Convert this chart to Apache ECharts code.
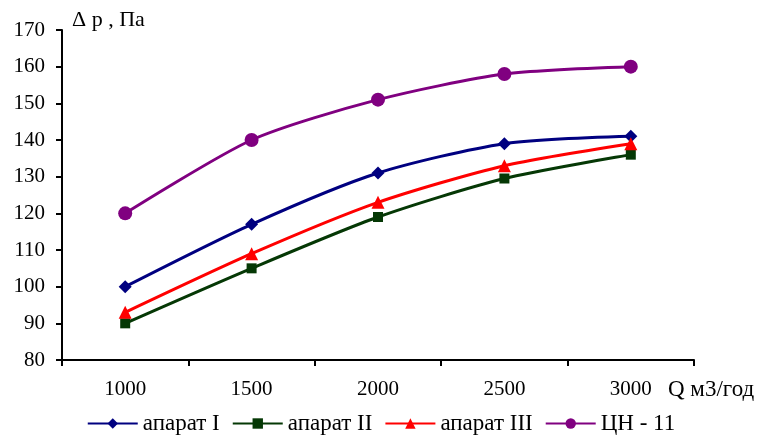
<!DOCTYPE html>
<html>
<head>
<meta charset="utf-8">
<script src="https://cdn.jsdelivr.net/npm/echarts@6/dist/echarts.min.js"></script>
<style>
  html, body { margin: 0; padding: 0; background: #fff; }
  #chart { width: 762px; height: 440px; }
</style>
</head>
<body>
<div id="chart"></div>
<script>
// Flow rate, m3/h
const categories = ['1000', '1500', '2000', '2500', '3000'];
// Pressure drop, Pa
const aparat1 = [100, 117, 131, 139, 141];
const aparat2 = [90, 105, 119, 129.5, 136];
const aparat3 = [93, 109, 123, 133, 139];
const cn11 = [120, 140, 151, 158, 160];

const seriesNames = ['апарат I', 'апарат II', 'апарат III', 'ЦН - 11'];
const seriesColors = ['#000080', '#053805', '#ff0000', '#800080'];
const seriesSymbols = ['diamond', 'rect', 'triangle', 'circle'];
const seriesSizes = [13, 10, 13, 14];
const seriesData = [aparat1, aparat2, aparat3, cn11];

const font = 'Liberation Serif, Times New Roman, serif';

const chart = echarts.init(document.getElementById('chart'));
chart.setOption({
  animation: false,
  backgroundColor: '#fff',
  grid: { left: 62, right: 68, top: 30, bottom: 80 },
  legend: {
    bottom: 0,
    left: 'center',
    itemWidth: 50,
    itemHeight: 13,
    itemGap: 12,
    textStyle: { fontFamily: font, fontSize: 23, color: '#000' },
    data: seriesNames
  },
  xAxis: {
    type: 'category',
    data: categories,
    boundaryGap: true,
    name: 'Q м3/год',
    nameLocation: 'end',
    nameGap: -26,
    nameTextStyle: { fontFamily: font, fontSize: 23, color: '#000', padding: [18, 0, 0, 0], align: 'left', verticalAlign: 'top' },
    axisLine: { lineStyle: { color: '#000', width: 2 } },
    axisTick: { show: true, inside: false, length: 6, lineStyle: { color: '#000', width: 2 } },
    axisLabel: { fontFamily: font, fontSize: 21, color: '#000', margin: 19 },
    splitLine: { show: false }
  },
  yAxis: {
    type: 'value',
    min: 80,
    max: 170,
    interval: 10,
    name: 'Δ p , Па',
    nameLocation: 'end',
    nameGap: -1,
    nameTextStyle: { fontFamily: font, fontSize: 22, color: '#000', align: 'left', padding: [0, 0, 0, 10] },
    axisLine: { show: true, lineStyle: { color: '#000', width: 2 } },
    axisTick: { show: true, inside: false, length: 6, lineStyle: { color: '#000', width: 2 } },
    axisLabel: { fontFamily: font, fontSize: 21, color: '#000', margin: 17 },
    splitLine: { show: false }
  },
  series: seriesNames.map((name, i) => ({
    name: name,
    type: 'line',
    data: seriesData[i],
    smooth: 0.25,
    symbol: seriesSymbols[i],
    symbolSize: seriesSizes[i],
    showAllSymbol: true,
    lineStyle: { color: seriesColors[i], width: 3 },
    itemStyle: { color: seriesColors[i] }
  }))
});
</script>
</body>
</html>
